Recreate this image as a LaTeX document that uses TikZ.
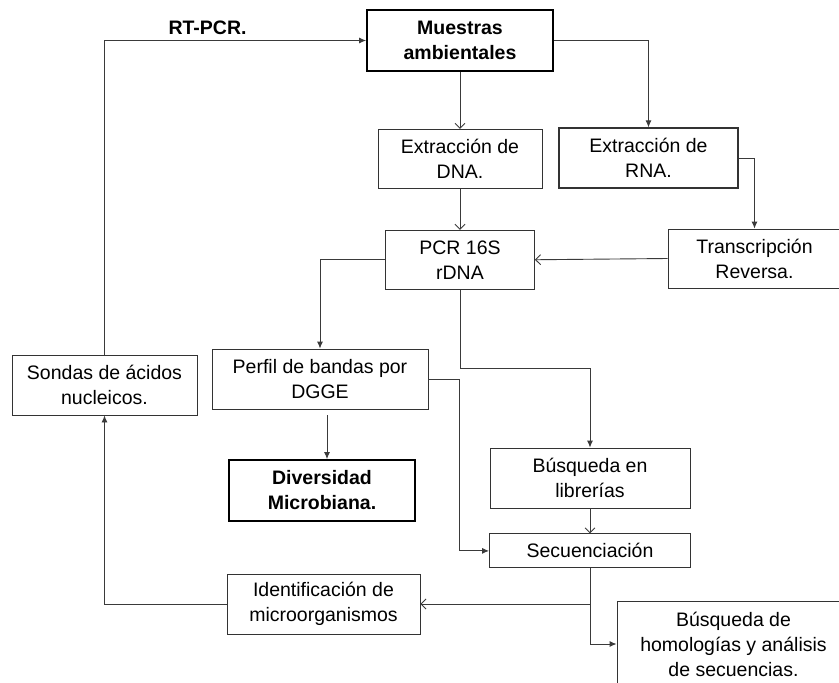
\documentclass[tikz,border=0pt]{standalone}
\usepackage{fontspec}
\setmainfont{Liberation Sans}
\usepackage{tikz}
\usetikzlibrary{arrows.meta,positioning}
\definecolor{inkgray}{HTML}{333333}
\definecolor{linegray}{HTML}{3A3A3A}
\tikzset{
  procbox/.style={
    rectangle, draw=inkgray, line width=0.9pt, fill=white,
    align=center, inner sep=0pt,
    font=\fontsize{19.5}{25}\selectfont
  },
  keybox/.style={procbox, draw=black, line width=1.8pt, font=\fontsize{19.5}{25}\selectfont\bfseries},
  fillarrow/.style={-{Latex[length=7pt,width=6pt]}, line width=0.9pt, color=linegray},
  openarrow/.style={-{Straight Barb[length=5pt,width=10pt]}, line width=0.9pt, color=linegray},
}

\begin{document}
\begin{tikzpicture}[x=1pt, y=-1pt]
  \useasboundingbox (0,0) rectangle (839,683);
  % upper part
  \node[keybox, minimum width=186pt, minimum height=61pt] (muestras) at (460,40.5) {Muestras\\ambientales};
  \node[procbox, minimum width=164pt, minimum height=59pt, below=57pt of muestras] (dna) {Extracción de\\DNA.};
  \node[procbox, line width=1.3pt, minimum width=179pt, minimum height=60pt] (rna) at (648.5,158) {Extracción de\\RNA.};
  \node[procbox, minimum width=149pt, minimum height=59pt, below=41pt of dna] (pcr) {PCR 16S\\rDNA};
  \node[procbox, minimum width=173pt, minimum height=59pt] (trans) at (754.5,258.5) {Transcripción\\Reversa.};
  % middle part
  \node[procbox, minimum width=216pt, minimum height=60pt] (perfil) at (320,379) {Perfil de bandas por\\DGGE};
  \node[procbox, minimum width=185pt, minimum height=60pt] (sondas) at (104.5,385) {Sondas de ácidos\\nucleicos.};
  \node[keybox, minimum width=186pt, minimum height=61pt] (divers) at (322,490.5) {Diversidad\\Microbiana.};
  \node[procbox, minimum width=200pt, minimum height=60pt] (libr) at (590,478) {Búsqueda en\\librerías};
  \node[procbox, minimum width=201pt, minimum height=34pt, below=25pt of libr] (secu) {Secuenciación};
  % lower part
  \node[procbox, minimum width=193pt, minimum height=60pt] (ident) at (323.5,604) {Identificación de\\microorganismos};
  \node[procbox, minimum width=233pt, minimum height=86pt] (homol) at (733.5,644) {Búsqueda de\\homologías y análisis\\de secuencias.};

  \draw[openarrow] (muestras.south) -- (muestras.south |- dna.north);
  \draw[fillarrow] (muestras.east) -| (rna.north);
  \draw[openarrow] (dna.south) -- (pcr.north);
  \draw[fillarrow] (rna.east) -| (trans.north);
  \draw[openarrow] (trans.west) -- (pcr.east);
  \draw[fillarrow] (pcr.west) -| (perfil.north);
  \draw[fillarrow] (pcr.south) -- ++(0,79) -| (libr.north);
  \draw[fillarrow] (perfil.east) -- ++(31,0) |- (secu.west);
  \draw[fillarrow] ([xshift=7pt,yshift=-6pt]perfil.south) -- ([xshift=5pt]divers.north);
  \draw[openarrow] (libr.south) -- (libr.south |- secu.north);
  \draw[openarrow] (secu.south) |- (ident.east);
  \draw[fillarrow] (secu.south) |- (homol.west);
  \draw[fillarrow] (ident.west) -| (sondas.south);
  \draw[fillarrow] (sondas.north) |- node[pos=0.697, above=2pt, text=black, font=\fontsize{19.5}{25}\selectfont\bfseries]{RT-PCR.} (muestras.west);
\end{tikzpicture}
\end{document}
